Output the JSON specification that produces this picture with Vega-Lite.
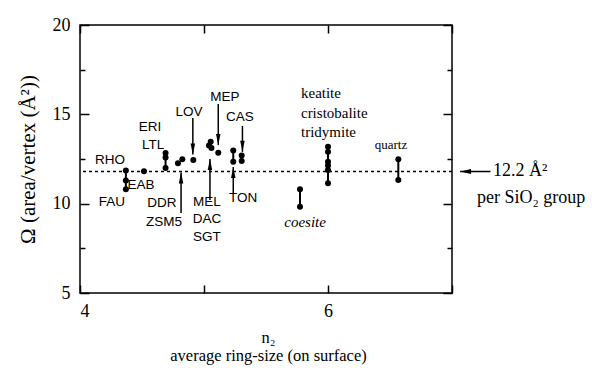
{
"$schema": "https://vega.github.io/schema/vega-lite/v6.json",
"width": 372, "height": 268,
"autosize": {"type": "none"},
"padding": {"left": 80, "top": 25, "right": 140, "bottom": 78},
"background": "white",
"config": {
  "view": {"stroke": "black", "strokeWidth": 1.5},
  "axis": {"domain": false, "grid": false, "tickColor": "black", "tickWidth": 1.5,
    "labelFont": "Liberation Serif", "labelFontSize": 18, "labelColor": "black",
    "titleFont": "Liberation Serif", "titleFontWeight": "normal", "titleColor": "black", "titleFontSize": 18}
},
"datasets": {
  "pts": [
    {"n": 4.37, "o": 11.85}, {"n": 4.37, "o": 11.3}, {"n": 4.37, "o": 10.8},
    {"n": 4.516, "o": 11.82},
    {"n": 4.69, "o": 12.84}, {"n": 4.69, "o": 12.59}, {"n": 4.69, "o": 12.0},
    {"n": 4.79, "o": 12.26}, {"n": 4.825, "o": 12.48},
    {"n": 4.914, "o": 12.45},
    {"n": 5.04, "o": 13.25}, {"n": 5.054, "o": 13.47}, {"n": 5.06, "o": 13.12}, {"n": 5.115, "o": 12.85},
    {"n": 5.236, "o": 12.97}, {"n": 5.236, "o": 12.35},
    {"n": 5.304, "o": 12.69}, {"n": 5.304, "o": 12.39},
    {"n": 5.774, "o": 10.81}, {"n": 5.774, "o": 9.83},
    {"n": 6.0, "o": 13.19}, {"n": 6.0, "o": 12.91}, {"n": 6.0, "o": 12.35}, {"n": 6.0, "o": 12.13}, {"n": 6.0, "o": 11.89}, {"n": 6.0, "o": 11.14},
    {"n": 6.567, "o": 12.48}, {"n": 6.567, "o": 11.33}
  ],
  "segs": [
    {"n": 4.37, "lo": 10.8, "hi": 11.85},
    {"n": 4.69, "lo": 12.0, "hi": 12.84},
    {"n": 5.236, "lo": 12.35, "hi": 12.97},
    {"n": 5.304, "lo": 12.39, "hi": 12.69},
    {"n": 5.774, "lo": 9.83, "hi": 10.81},
    {"n": 6.0, "lo": 11.14, "hi": 13.19},
    {"n": 6.567, "lo": 11.33, "hi": 12.48}
  ],
  "arrows": [
    {"x1": 4.815, "x2": 4.815, "y1": 9.48, "y2": 11.75, "dir": "up"},
    {"x1": 4.91, "x2": 4.91, "y1": 14.8, "y2": 12.75, "dir": "down"},
    {"x1": 5.115, "x2": 5.115, "y1": 15.58, "y2": 13.28, "dir": "down"},
    {"x1": 5.31, "x2": 5.31, "y1": 14.35, "y2": 12.9, "dir": "down"},
    {"x1": 5.048, "x2": 5.048, "y1": 10.2, "y2": 12.5, "dir": "up"},
    {"x1": 5.236, "x2": 5.236, "y1": 10.54, "y2": 12.05, "dir": "up"},
    {"x1": 7.31, "x2": 7.065, "y1": 11.8, "y2": 11.8, "dir": "left"}
  ],
  "codes": [
    {"t": "RHO", "n": 4.242, "o": 12.45},
    {"t": "EAB", "n": 4.492, "o": 11.05},
    {"t": "FAU", "n": 4.258, "o": 10.1},
    {"t": "ERI", "n": 4.565, "o": 14.29},
    {"t": "LTL", "n": 4.589, "o": 13.28},
    {"t": "DDR", "n": 4.661, "o": 10.04},
    {"t": "ZSM5", "n": 4.677, "o": 8.98},
    {"t": "LOV", "n": 4.879, "o": 15.13},
    {"t": "MEP", "n": 5.169, "o": 15.97},
    {"t": "CAS", "n": 5.29, "o": 14.85},
    {"t": "MEL", "n": 5.024, "o": 10.1},
    {"t": "DAC", "n": 5.024, "o": 9.14},
    {"t": "SGT", "n": 5.024, "o": 8.14},
    {"t": "TON", "n": 5.315, "o": 10.32}
  ],
  "silica": [
    {"t": "keatite", "n": 5.782, "o": 16.2},
    {"t": "cristobalite", "n": 5.782, "o": 15.08},
    {"t": "tridymite", "n": 5.782, "o": 14.01}
  ]
},
"layer": [
  {
    "data": {"name": "pts"},
    "mark": {"type": "point", "filled": true, "shape": "circle", "size": 36, "color": "black", "opacity": 1},
    "encoding": {
      "x": {"field": "n", "type": "quantitative", "scale": {"domain": [4, 7], "nice": false, "zero": false},
        "axis": {"orient": "bottom", "values": [4, 5, 6, 7], "labelExpr": "datum.value == 4 || datum.value == 6 ? datum.label : ''",
          "tickSize": -8, "labelPadding": 17, "title": ["n₂", "average ring-size (on surface)"], "titlePadding": 9, "titleLineHeight": 18, "titleFontSize": 16.5, "titleX": 188}},
      "y": {"field": "o", "type": "quantitative", "scale": {"domain": [5, 20], "nice": false, "zero": false},
        "axis": {"orient": "left", "values": [5, 10, 15, 20], "tickSize": -9, "labelPadding": 19,
          "title": "Ω   (area/vertex (Å²))", "titlePadding": 14, "titleFontSize": 21, "titleY": 134}}
    }
  },
  {
    "data": {"values": [{"o": 11.8}]},
    "mark": {"type": "rule", "strokeDash": [3, 3], "strokeWidth": 1.5, "color": "black"},
    "encoding": {
      "y": {"field": "o", "type": "quantitative", "scale": {"domain": [5, 20], "nice": false, "zero": false},
        "axis": {"orient": "right", "values": [5, 10, 15, 20], "tickSize": -9, "labels": false, "title": null}}
    }
  },
  {
    "data": {"name": "segs"},
    "mark": {"type": "rule", "strokeWidth": 2, "color": "black"},
    "encoding": {
      "x": {"field": "n", "type": "quantitative", "scale": {"domain": [4, 7], "nice": false, "zero": false},
        "axis": {"orient": "top", "values": [4, 5, 6, 7], "tickSize": -8, "labels": false, "title": null}},
      "y": {"field": "lo", "type": "quantitative", "scale": {"domain": [5, 20], "nice": false, "zero": false},
        "axis": {"orient": "left", "values": [7.5, 12.5, 17.5], "tickSize": -5, "labels": false, "title": null}},
      "y2": {"field": "hi"}
    }
  },
  {
    "data": {"name": "codes"},
    "mark": {"type": "text", "font": "Liberation Sans", "fontSize": 13.5, "color": "black", "align": "center", "baseline": "middle"},
    "encoding": {
      "x": {"field": "n", "type": "quantitative", "scale": {"domain": [4, 7], "nice": false, "zero": false}, "axis": null},
      "y": {"field": "o", "type": "quantitative", "scale": {"domain": [5, 20], "nice": false, "zero": false},
        "axis": {"orient": "right", "values": [7.5, 12.5, 17.5], "tickSize": -5, "labels": false, "title": null}},
      "text": {"field": "t"}
    }
  },
  {
    "data": {"name": "silica"},
    "mark": {"type": "text", "font": "Liberation Serif", "fontSize": 15, "color": "black", "align": "left", "baseline": "middle"},
    "encoding": {
      "x": {"field": "n", "type": "quantitative", "scale": {"domain": [4, 7], "nice": false, "zero": false}, "axis": null},
      "y": {"field": "o", "type": "quantitative", "scale": {"domain": [5, 20], "nice": false, "zero": false}, "axis": null},
      "text": {"field": "t"}
    }
  },
  {
    "data": {"values": [{"t": "quartz", "n": 6.508, "o": 13.28}]},
    "mark": {"type": "text", "font": "Liberation Serif", "fontSize": 13, "color": "black", "align": "center", "baseline": "middle"},
    "encoding": {
      "x": {"field": "n", "type": "quantitative", "scale": {"domain": [4, 7], "nice": false, "zero": false}, "axis": null},
      "y": {"field": "o", "type": "quantitative", "scale": {"domain": [5, 20], "nice": false, "zero": false}, "axis": null},
      "text": {"field": "t"}
    }
  },
  {
    "data": {"values": [{"t": "coesite", "n": 5.815, "o": 8.98}]},
    "mark": {"type": "text", "font": "Liberation Serif", "fontStyle": "italic", "fontSize": 15, "color": "black", "align": "center", "baseline": "middle"},
    "encoding": {
      "x": {"field": "n", "type": "quantitative", "scale": {"domain": [4, 7], "nice": false, "zero": false}, "axis": null},
      "y": {"field": "o", "type": "quantitative", "scale": {"domain": [5, 20], "nice": false, "zero": false}, "axis": null},
      "text": {"field": "t"}
    }
  },
  {
    "data": {"values": [{"t": "12.2 Å²", "n": 7.331, "o": 11.83}]},
    "mark": {"type": "text", "font": "Liberation Serif", "fontSize": 18, "color": "black", "align": "left", "baseline": "middle"},
    "encoding": {
      "x": {"field": "n", "type": "quantitative", "scale": {"domain": [4, 7], "nice": false, "zero": false}, "axis": null},
      "y": {"field": "o", "type": "quantitative", "scale": {"domain": [5, 20], "nice": false, "zero": false}, "axis": null},
      "text": {"field": "t"}
    }
  },
  {
    "data": {"values": [{"t": "per SiO₂ group", "n": 7.202, "o": 10.32}]},
    "mark": {"type": "text", "font": "Liberation Serif", "fontSize": 18, "color": "black", "align": "left", "baseline": "middle"},
    "encoding": {
      "x": {"field": "n", "type": "quantitative", "scale": {"domain": [4, 7], "nice": false, "zero": false}, "axis": null},
      "y": {"field": "o", "type": "quantitative", "scale": {"domain": [5, 20], "nice": false, "zero": false}, "axis": null},
      "text": {"field": "t"}
    }
  },
  {
    "data": {"name": "arrows"},
    "mark": {"type": "rule", "strokeWidth": 1.5, "color": "black"},
    "encoding": {
      "x": {"field": "x1", "type": "quantitative", "scale": {"domain": [4, 7], "nice": false, "zero": false}, "axis": null},
      "x2": {"field": "x2"},
      "y": {"field": "y1", "type": "quantitative", "scale": {"domain": [5, 20], "nice": false, "zero": false}, "axis": null},
      "y2": {"field": "y2"}
    }
  },
  {
    "data": {"name": "arrows"},
    "mark": {"type": "point", "filled": true, "size": 100, "color": "black", "opacity": 1},
    "encoding": {
      "x": {"field": "x2", "type": "quantitative", "scale": {"domain": [4, 7], "nice": false, "zero": false}, "axis": null},
      "y": {"field": "y2", "type": "quantitative", "scale": {"domain": [5, 20], "nice": false, "zero": false}, "axis": null},
      "shape": {"field": "dir", "type": "nominal",
        "scale": {"domain": ["up", "down", "left"], "range": ["M0,0L-0.45,2.2L0.45,2.2Z", "M0,0L-0.45,-2.2L0.45,-2.2Z", "M0,0L2.2,-0.5L2.2,0.5Z"]},
        "legend": null}
    }
  }
],
"resolve": {"axis": {"x": "independent", "y": "independent"}}
}
